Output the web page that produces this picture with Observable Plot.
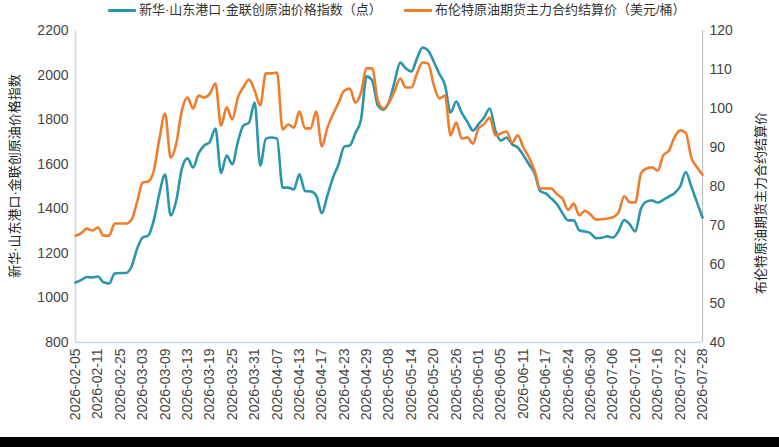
<!DOCTYPE html>
<html>
<head>
<meta charset="utf-8">
<script src="https://cdn.jsdelivr.net/npm/d3@7"></script>
<script src="https://cdn.jsdelivr.net/npm/@observablehq/plot@0.6"></script>
<style>
  html, body { margin: 0; padding: 0; background: #fff; }
  #wrap { position: relative; width: 779px; height: 447px; overflow: hidden;
    font-family: "Liberation Sans", Arial, "Noto Sans CJK SC", sans-serif; }
  .leg { position: absolute; top: 2px; font-size: 13px; color: #333; white-space: nowrap; line-height: 16px; }
  .sw { position: absolute; top: 9px; height: 3px; width: 28px; border-radius: 1px; }
  .ytitle { position: absolute; font-size: 13px; color: #222; white-space: nowrap; transform: translate(-50%, -50%) rotate(-90deg); line-height: 14px; }
  #chart { position: absolute; left: 0; top: 20px; }
  #band { position: absolute; left: 0; top: 437px; width: 779px; height: 10px; background: #000; }
</style>
</head>
<body>
<div id="wrap">
  <div class="sw" style="left:108px;background:#2b95ab"></div>
  <div class="leg" style="left:139px">新华·山东港口·金联创原油价格指数（点）</div>
  <div class="sw" style="left:404px;background:#ef7d2e"></div>
  <div class="leg" style="left:435px">布伦特原油期货主力合约结算价（美元/桶）</div>
  <div class="ytitle" style="left:15px;top:176px">新华·山东港口·金联创原油价格指数</div>
  <div class="ytitle" style="left:761px;top:203px">布伦特原油期货主力合约结算价</div>
  <div id="chart"></div>
  <div id="band"></div>
</div>
<script>
const dates = [
  "2026-02-05","2026-02-06","2026-02-09","2026-02-10","2026-02-11","2026-02-12","2026-02-13","2026-02-24","2026-02-25","2026-02-26","2026-02-27",
  "2026-03-02","2026-03-03","2026-03-04","2026-03-05","2026-03-06","2026-03-09","2026-03-10","2026-03-11","2026-03-12","2026-03-13","2026-03-16","2026-03-17","2026-03-18","2026-03-19","2026-03-20","2026-03-23","2026-03-24","2026-03-25","2026-03-26","2026-03-27","2026-03-30","2026-03-31",
  "2026-04-01","2026-04-02","2026-04-03","2026-04-07","2026-04-08","2026-04-09","2026-04-10","2026-04-13","2026-04-14","2026-04-15","2026-04-16","2026-04-17","2026-04-20","2026-04-21","2026-04-22","2026-04-23","2026-04-24","2026-04-27","2026-04-28","2026-04-29","2026-04-30",
  "2026-05-06","2026-05-07","2026-05-08","2026-05-11","2026-05-12","2026-05-13","2026-05-14","2026-05-15","2026-05-18","2026-05-19","2026-05-20","2026-05-21","2026-05-22","2026-05-25","2026-05-26","2026-05-27","2026-05-28","2026-05-29",
  "2026-06-01","2026-06-02","2026-06-03","2026-06-04","2026-06-05","2026-06-08","2026-06-09","2026-06-10","2026-06-11","2026-06-12","2026-06-15","2026-06-16","2026-06-17","2026-06-18","2026-06-22","2026-06-23","2026-06-24","2026-06-25","2026-06-26","2026-06-29","2026-06-30",
  "2026-07-01","2026-07-02","2026-07-03","2026-07-06","2026-07-07","2026-07-08","2026-07-09","2026-07-10","2026-07-13","2026-07-14","2026-07-15","2026-07-16","2026-07-17","2026-07-20","2026-07-21","2026-07-22","2026-07-23","2026-07-24","2026-07-27","2026-07-28"
];

// 新华·山东港口·金联创原油价格指数（点）
const indexValues = [
  1069,1080,1094,1092,1096,1070,1065,1110,1112,1112,1140,
  1220,1271,1280,1350,1470,1554,1370,1437,1580,1626,1585,1650,1684,1700,1760,1560,1639,1600,1700,1774,1787,1877,
  1594,1715,1720,1715,1495,1495,1487,1555,1480,1478,1460,1380,1460,1540,1600,1679,1684,1740,1800,1994,1975,
  1863,1845,1880,1970,2056,2030,2016,2075,2124,2110,2060,2005,1955,1832,1881,1830,1790,1751,
  1780,1810,1850,1751,1706,1720,1690,1675,1640,1600,1560,1480,1469,1446,1420,1380,1348,1348,1303,1298,1290,
  1268,1270,1276,1271,1300,1350,1330,1298,1400,1432,1437,1428,1440,1455,1470,1500,1565,1500,1430,1361
];

// 布伦特原油期货主力合约结算价（美元/桶）
const brentValues = [
  67.4,68.0,69.2,68.7,69.5,67.4,67.4,70.5,70.5,70.5,71.5,
  76.0,81.0,81.3,84.1,92.3,98.7,87.4,91.0,99.5,102.8,100.0,103.3,102.8,103.8,106.4,95.6,100.3,97.2,102.8,105.5,107.4,104.6,
  100.8,109.0,109.0,109.2,94.6,95.9,95.1,99.2,94.9,94.9,99.2,90.3,95.1,98.5,101.5,104.6,105.1,101.5,104.1,110.3,110.3,
  102.0,100.0,101.5,104.5,107.7,105.4,105.4,109.0,111.8,111.5,106.0,102.6,103.3,93.1,96.4,92.3,92.6,91.0,
  94.9,96.0,97.7,93.1,93.6,94.1,91.3,93.1,90.0,87.5,84.1,79.5,79.5,79.5,78.0,76.9,74.0,75.6,72.6,73.8,72.8,
  71.5,71.6,71.8,72.1,73.3,77.5,76.0,75.9,83.3,84.6,84.9,84.1,88.0,89.2,92.6,94.4,93.8,87.4,85.0,83.0
];

const leftTicks = [800, 1000, 1200, 1400, 1600, 1800, 2000, 2200];
const rightTicks = [40, 50, 60, 70, 80, 90, 100, 110, 120];
const tickDates = dates.filter((d, i) => i % 4 === 0);

// map right-axis values onto the left scale domain
const L0 = 800, L1 = 2200, R0 = 40, R1 = 120;
const toLeft = v => L0 + (v - R0) * (L1 - L0) / (R1 - R0);
const toRight = v => R0 + (v - L0) * (R1 - R0) / (L1 - L0);

const idxData = dates.map((d, i) => ({date: d, value: indexValues[i]}));
const brentData = dates.map((d, i) => ({date: d, value: toLeft(brentValues[i])}));

const chart = Plot.plot({
  width: 779,
  height: 417,
  marginTop: 10,
  marginBottom: 95,
  marginLeft: 75,
  marginRight: 77,
  style: {fontFamily: '"Liberation Sans", Arial, "Noto Sans CJK SC", sans-serif', fontSize: "14px", color: "#444", background: "transparent"},
  x: {type: "point", domain: dates, padding: 0},
  y: {domain: [L0, L1]},
  marks: [
    Plot.ruleX([dates[0]], {stroke: "#ccd6eb", strokeWidth: 1.5}),
    Plot.ruleX([dates[dates.length - 1]], {stroke: "#c0c0c0", strokeWidth: 1.2}),
    Plot.ruleY([L0], {stroke: "#ccd6eb", strokeWidth: 1.5}),
    Plot.axisY(leftTicks, {anchor: "left", tickSize: 0, tickPadding: 7, label: null, fontSize: 14, fill: "#444", tickFormat: d => String(d)}),
    Plot.axisY(rightTicks.map(toLeft), {anchor: "right", tickSize: 0, tickPadding: 7, label: null, fontSize: 14, fill: "#444", tickFormat: d => String(Math.round(toRight(d)))}),
    Plot.axisX(tickDates, {anchor: "bottom", tickSize: 0, tickPadding: 6, tickRotate: -90, label: null, fontSize: 14, fill: "#444"}),
    Plot.line(idxData, {x: "date", y: "value", stroke: "#2b95ab", strokeWidth: 2.6, curve: "monotone-x"}),
    Plot.line(brentData, {x: "date", y: "value", stroke: "#ef7d2e", strokeWidth: 2.6, curve: "monotone-x"})
  ]
});
document.getElementById("chart").appendChild(chart);
</script>
</body>
</html>
